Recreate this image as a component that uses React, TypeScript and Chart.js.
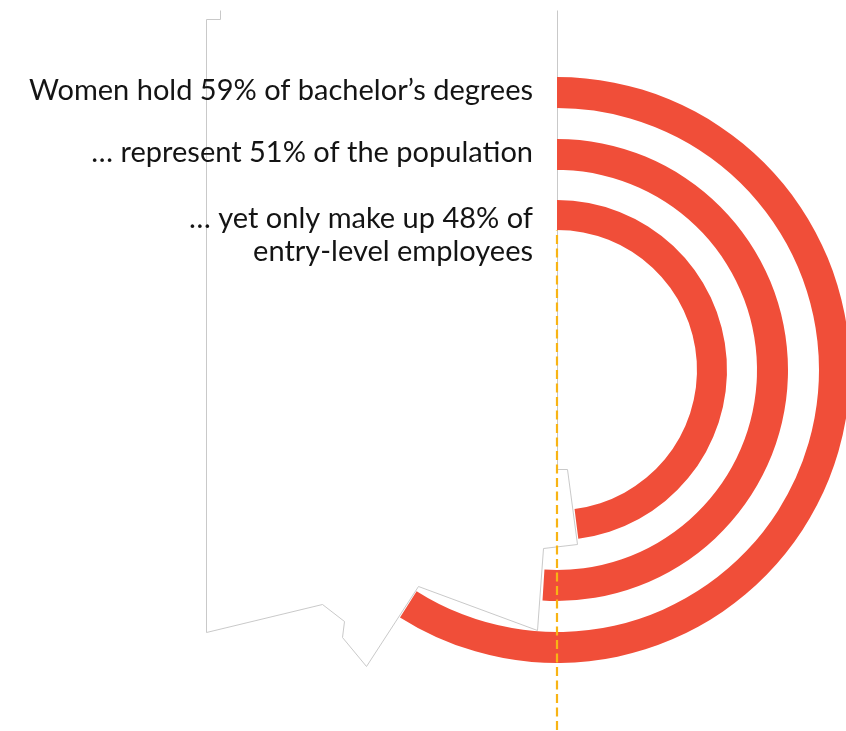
import React, { useEffect, useRef } from "react";
import { Chart, registerables } from "chart.js";

Chart.register(...registerables);

// ---- data ----
const labels: string[][] = [
  ["Women hold 59% of bachelor’s degrees"],
  ["… represent 51% of the population"],
  ["… yet only make up 48% of", "entry-level employees"],
];
const values: number[] = [59, 51, 48];

// ring weights (thickness) and gaps between rings, outer to inner
const ringWeights: number[] = [31, 31, 30];
const gapWeights: number[] = [31, 30];

const RED = "#f04e39";
const DASH_COLOR = "#f8b414";
const OUTLINE = "#c9c9c9";
const FONT = "Lato, 'Noto Sans', sans-serif";

// decorative background outline (offsets from chart centre, px)
const outline: [number, number][] = [
  [-337, -360], [-337, -351], [-351, -351], [-351, 262], [-235, 234], [-213, 251],
  [-215, 267], [-191, 296], [-139, 216], [-20, 260], [-14, 178], [20, 174],
  [10, 99], [0, 99], [0, -360],
];

const bgPlugin = {
  id: "bgOutline",
  beforeDatasetsDraw(chart: any) {
    const arc = chart.getDatasetMeta(0).data[0];
    if (!arc) return;
    const { x, y } = arc;
    const ctx = chart.ctx;
    ctx.save();
    ctx.beginPath();
    outline.forEach(([dx, dy], i) => {
      const px = Math.round(x + dx) + 0.5;
      const py = Math.round(y + dy) + 0.5;
      if (i === 0) ctx.moveTo(px, py);
      else ctx.lineTo(px, py);
    });
    ctx.fillStyle = "#ffffff";
    ctx.fill();
    ctx.strokeStyle = OUTLINE;
    ctx.lineWidth = 1;
    ctx.stroke();
    ctx.restore();
  },
};

const overlayPlugin = {
  id: "overlay",
  afterDatasetsDraw(chart: any) {
    const ctx = chart.ctx;
    const dataIdx = [0, 2, 4];
    let innerMost = 0;
    let cx = 0;
    let cy = 0;
    ctx.save();
    dataIdx.forEach((di, i) => {
      const arc = chart.getDatasetMeta(di).data[0];
      if (!arc) return;
      cx = arc.x;
      cy = arc.y;
      innerMost = arc.innerRadius;
      const mid = (arc.outerRadius + arc.innerRadius) / 2;
      const lines = labels[i];
      ctx.font = `29px ${FONT}`;
      ctx.fillStyle = "#141414";
      ctx.textAlign = "right";
      ctx.textBaseline = "alphabetic";
      const base = cy - mid + 7 + (lines.length - 1) * 6;
      lines.forEach((t, k) => {
        ctx.fillText(t, cx - 24, base + k * 33);
      });
    });
    // dashed reference line
    ctx.beginPath();
    ctx.setLineDash([9, 4.5]);
    ctx.lineDashOffset = -5;
    ctx.strokeStyle = DASH_COLOR;
    ctx.lineWidth = 2.2;
    ctx.moveTo(cx, cy - innerMost);
    ctx.lineTo(cx, chart.height);
    ctx.stroke();
    ctx.restore();
  },
};

export default function App() {
  const ref = useRef<HTMLCanvasElement | null>(null);
  useEffect(() => {
    if (!ref.current) return;
    const datasets: any[] = [];
    values.forEach((v, i) => {
      datasets.push({
        data: [v, 100 - v],
        backgroundColor: [RED, "rgba(0,0,0,0)"],
        borderWidth: 0,
        weight: ringWeights[i],
      });
      if (i < gapWeights.length) {
        datasets.push({
          data: [0, 100],
          backgroundColor: ["rgba(0,0,0,0)", "rgba(0,0,0,0)"],
          borderWidth: 0,
          weight: gapWeights[i],
        });
      }
    });
    const outerR = 293;
    const innerR = 140;
    const chart = new Chart(ref.current, {
      type: "doughnut",
      data: { labels: ["share", "rest"], datasets },
      options: {
        animation: false,
        responsive: false,
        radius: outerR,
        cutout: `${(innerR / outerR) * 100}%`,
        layout: { padding: { left: 268, right: 0, top: 9, bottom: 0 } },
        plugins: { legend: { display: false }, tooltip: { enabled: false } },
      } as any,
      plugins: [bgPlugin, overlayPlugin],
    });
    return () => chart.destroy();
  }, []);
  return (
    <div style={{ position: "fixed", left: 0, top: 0, width: 846, height: 731, overflow: "hidden", background: "#fff" }}>
      <canvas ref={ref} width={846} height={731} style={{ display: "block", width: 846, height: 731 }} />
    </div>
  );
}
